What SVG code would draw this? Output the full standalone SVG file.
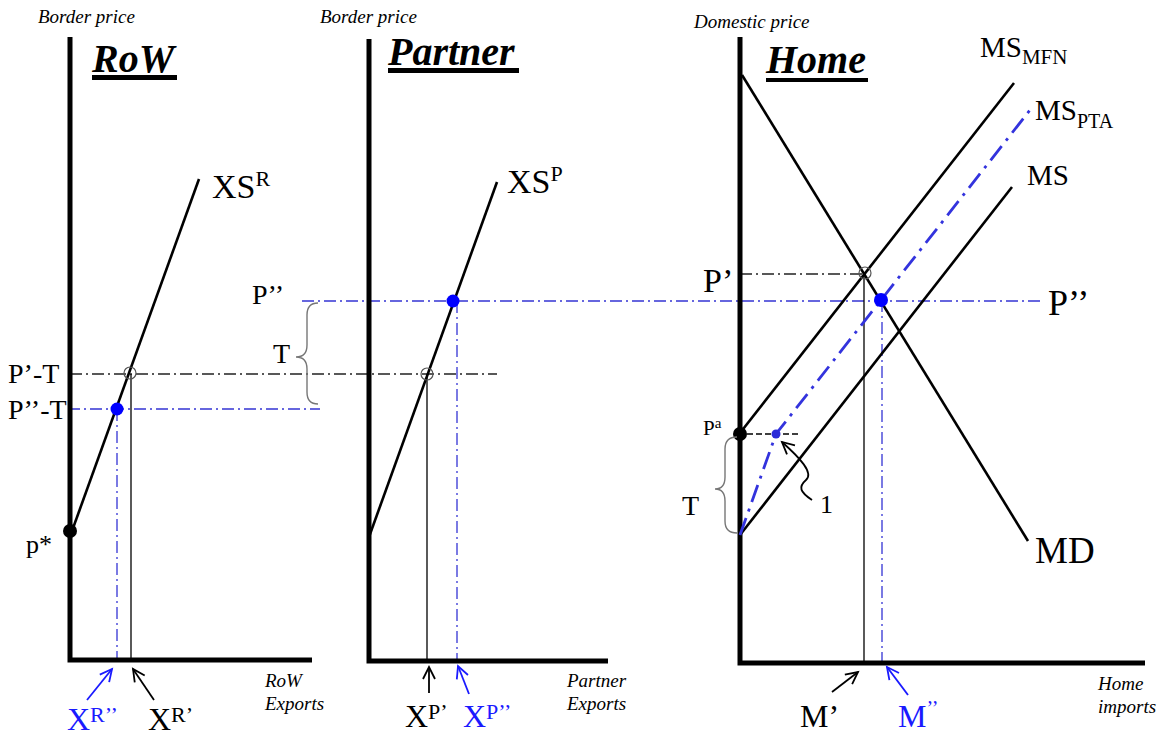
<svg xmlns="http://www.w3.org/2000/svg" width="1165" height="735" viewBox="0 0 1165 735">
<style>
text{font-family:"Liberation Serif","Times New Roman",serif;fill:#000}
.ax{stroke:#000;stroke-width:5;fill:none}
.crv{stroke:#000;stroke-width:2.6;fill:none}
.thin{stroke:#000;stroke-width:1.3;fill:none}
.bdd{stroke:#3434d4;stroke-width:1.3;fill:none;stroke-dasharray:12 4 2 4}
.kdd{stroke:#222;stroke-width:1.3;fill:none;stroke-dasharray:12 4 2 4}
.pta{stroke:#3333dd;stroke-width:2.8;fill:none;stroke-dasharray:18 7 3 7}
.brace{stroke:#777;stroke-width:1.4;fill:none}
.lab{font-style:italic;font-size:19px}
.ttl{font-style:italic;font-weight:bold;font-size:40px}
.blue{fill:#1a1aff}
.hol{fill:none;stroke:#555;stroke-width:1.2}
.dot{fill:#0000ff}
.arrk{stroke:#000;stroke-width:1.8;fill:none}
.arrb{stroke:#1a1aff;stroke-width:1.8;fill:none}
</style>
<defs>
<marker id="ak" markerUnits="userSpaceOnUse" markerWidth="16" markerHeight="16" refX="13" refY="7" orient="auto" viewBox="0 0 16 14"><path d="M1,1 L13,7 L1,13" fill="none" stroke="#000" stroke-width="1.8"/></marker>
<marker id="ab" markerUnits="userSpaceOnUse" markerWidth="16" markerHeight="16" refX="13" refY="7" orient="auto" viewBox="0 0 16 14"><path d="M1,1 L13,7 L1,13" fill="none" stroke="#1a1aff" stroke-width="1.8"/></marker>
</defs>

<g id="guides">
<path class="kdd" d="M70,374 H497"/>
<path class="bdd" d="M68,409 H320"/>
<path class="bdd" d="M302,301 H1042"/>
<path class="kdd" d="M740,274 H865"/>
<path class="thin" d="M131,374 V660"/>
<path class="bdd" d="M117,409 V660"/>
<path class="thin" d="M427,374 V661"/>
<path class="bdd" d="M457,301 V661"/>
<path class="thin" d="M864,274 V663"/>
<path class="bdd" d="M882,300 V663"/>
</g>

<g id="row">
<path class="ax" d="M70,37 V660 H312"/>
<path class="crv" d="M72,531 L199,179"/>
<circle cx="70" cy="531" r="7" fill="#000"/>
<circle class="hol" cx="130" cy="373" r="6"/>
<circle class="dot" cx="117" cy="409" r="6.5"/>
<text class="lab" x="38" y="23">Border price</text>
<text class="ttl" x="92" y="72">RoW</text>
<rect x="92" y="75" width="85" height="5" fill="#000"/>
<text x="212" y="198" font-size="34">XS<tspan font-size="22" dy="-12">R</tspan></text>
<text x="8" y="383" font-size="28">P’-T</text>
<text x="8" y="419" font-size="28">P’’-T</text>
<text x="26" y="553" font-size="26">p*</text>
<text class="lab" x="265" y="687">RoW</text>
<text class="lab" x="265" y="710">Exports</text>
<text class="blue" x="67" y="730" font-size="32">X<tspan font-size="22" dy="-8">R’’</tspan></text>
<text x="148" y="730" font-size="32">X<tspan font-size="22" dy="-8">R’</tspan></text>
</g>

<g id="partner">
<path class="ax" d="M369,39 V661 H608"/>
<path class="crv" d="M369,537 L497,182"/>
<circle class="hol" cx="427" cy="374" r="6"/>
<circle class="dot" cx="453" cy="301" r="6.5"/>
<path class="brace" d="M318,303 Q307,303 307,315 L307,345 Q307,357 296,357 Q307,357 307,369 L307,392 Q307,404 318,404"/>
<text class="lab" x="320" y="23">Border price</text>
<text class="ttl" x="388" y="65">Partner</text>
<rect x="388" y="68" width="131" height="5" fill="#000"/>
<text x="507" y="193" font-size="34">XS<tspan font-size="22" dy="-12">P</tspan></text>
<text x="252" y="304" font-size="28">P’’</text>
<text x="273" y="363" font-size="28">T</text>
<text class="lab" x="567" y="687">Partner</text>
<text class="lab" x="567" y="710">Exports</text>
<text x="405" y="727" font-size="32">X<tspan font-size="22" dy="-8">P’</tspan></text>
<text class="blue" x="463" y="727" font-size="32">X<tspan font-size="22" dy="-8">P’’</tspan></text>
</g>

<g id="home">
<path class="ax" d="M740,37 V663 H1145"/>
<path class="crv" d="M742,75 L1028,541"/>
<path class="crv" d="M740,433 L1014,83"/>
<path class="crv" d="M740,535 L1012,187"/>
<path class="pta" d="M740,535 L776,434 L1030,110"/>
<circle class="hol" cx="865" cy="273" r="6"/>
<circle class="dot" cx="881" cy="300" r="7"/>
<circle cx="740" cy="434" r="7" fill="#000"/>
<path d="M747,434 H799" stroke="#000" stroke-width="1.3" stroke-dasharray="6 3" fill="none"/>
<circle cx="776" cy="434" r="4.5" fill="#2a2ad8"/>
<path class="brace" d="M737,437 Q725,437 725,449 L725,477 Q725,489 715,489 Q725,489 725,501 L725,521 Q725,533 737,533"/>
<text class="lab" x="694" y="28">Domestic price</text>
<text class="ttl" x="766" y="73">Home</text>
<rect x="766" y="78" width="102" height="4" fill="#000"/>
<text x="980" y="57" font-size="29">MS<tspan font-size="21" dy="7">MFN</tspan></text>
<text x="1035" y="120" font-size="29">MS<tspan font-size="20" dy="8">PTA</tspan></text>
<text x="1027" y="185" font-size="29">MS</text>
<text x="1035" y="563" font-size="37">MD</text>
<text x="703" y="292" font-size="34">P’</text>
<text x="1048" y="315" font-size="36">P’’</text>
<text x="703" y="435" font-size="21">P<tspan font-size="15" dy="-7">a</tspan></text>
<text x="682" y="515" font-size="28">T</text>
<text x="820" y="513" font-size="26">1</text>
<text class="lab" x="1098" y="690">Home</text>
<text class="lab" x="1098" y="713">imports</text>
<text x="800" y="727" font-size="32">M’</text>
<text class="blue" x="898" y="727" font-size="32">M<tspan font-size="20" dy="-12">’’</tspan></text>
</g>

<g id="connectors">
<path class="arrb" d="M87,700 L112,669" marker-end="url(#ab)"/>
<path class="arrk" d="M154,700 L133,669" marker-end="url(#ak)"/>
<path class="arrk" d="M429,693 L429,667" marker-end="url(#ak)"/>
<path class="arrb" d="M469,694 L458,666" marker-end="url(#ab)"/>
<path class="arrk" d="M832,692 L858,672" marker-end="url(#ak)"/>
<path class="arrb" d="M908,695 L887,667" marker-end="url(#ab)"/>
<path class="arrk" d="M812,500 C800,492 798,487 806,480 C814,473 800,458 782,442" marker-end="url(#ak)"/>
</g>
</svg>
